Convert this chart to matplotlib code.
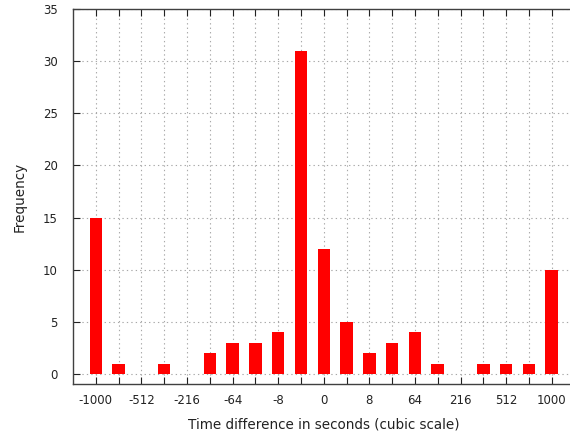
import numpy as np
import matplotlib
matplotlib.use("Agg")
import matplotlib.pyplot as plt

# bin centres in seconds (cubic scale)
bin_centres = [-1000, -729, -512, -343, -216, -125, -64, -27, -8, -1, 0,
               1, 8, 27, 64, 125, 216, 343, 512, 729, 1000]
frequency = [15, 1, 0, 1, 0, 2, 3, 3, 4, 31, 12,
             5, 2, 3, 4, 1, 0, 1, 1, 1, 10]
tick_values = [-1000, -512, -216, -64, -8, 0, 8, 64, 216, 512, 1000]
tick_labels = ["-1000", "-512", "-216", "-64", "-8", "0", "8", "64", "216", "512", "1000"]

plt.rcParams['font.family'] = ['DejaVu Sans']

fig = plt.figure(figsize=(5.7, 4.4), dpi=100)
W, H = 570, 440
left, right, top, bottom = 73, 575, 9, 384
ax = fig.add_axes([left / W, 1 - bottom / H, (right - left) / W, (bottom - top) / H])

pos = np.cbrt(np.array(bin_centres, dtype=float))
ax.bar(pos, frequency, width=0.55, color='#ff0000', edgecolor='none',
       linewidth=0, zorder=3)

ax.set_xlim(-11, 11.02)
ax.set_ylim(-0.96, 35)

major_pos = np.cbrt(np.array(tick_values, dtype=float))
ax.set_xticks(major_pos)
ax.set_xticklabels(tick_labels)
ax.set_xticks(pos, minor=True)
ax.set_yticks(np.arange(0, 36, 5))

ax.tick_params(axis='both', which='both', direction='in', top=True, right=False,
               color='#222222', labelsize=8.5, labelcolor='#222222')
ax.tick_params(axis='both', which='major', length=5, width=0.8)
ax.tick_params(axis='x', which='minor', length=5, width=0.8)
ax.tick_params(axis='x', pad=7)
ax.tick_params(axis='y', pad=11)

ax.grid(True, which='both', axis='x', color='#a8a8a8', linestyle=(0, (1.2, 2.8)), linewidth=0.8, zorder=0)
ax.grid(True, which='major', axis='y', color='#a8a8a8', linestyle=(0, (1.2, 2.8)), linewidth=0.8, zorder=0)

for s in ax.spines.values():
    s.set_color('#404040')
    s.set_linewidth(1.0)

ax.set_xlabel("Time difference in seconds (cubic scale)", fontsize=9.75, color='#222222', labelpad=8)
ax.set_ylabel("Frequency", fontsize=9.75, color='#222222', labelpad=12)

fig.savefig("out.png", dpi=100)
